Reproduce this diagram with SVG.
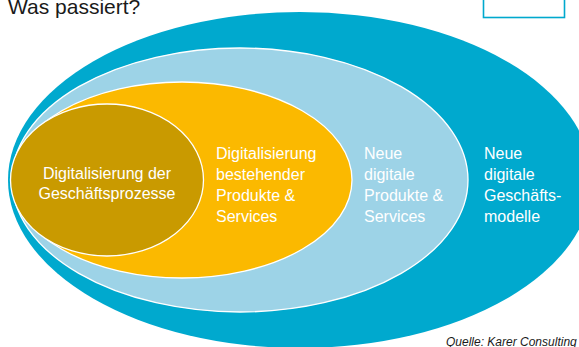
<svg xmlns="http://www.w3.org/2000/svg" width="579" height="347" viewBox="0 0 579 347">
  <style>
    .lbl { font-family: "Liberation Sans", Arial, sans-serif; font-size: 16px; fill: #ffffff; }
    .ring { stroke: #ffffff; stroke-width: 1.3; }
    .title { font-family: "Liberation Sans", Arial, sans-serif; font-size: 21px; fill: #1a1a1a; }
    .src { font-family: "Liberation Sans", Arial, sans-serif; font-size: 12px; font-style: italic; fill: #1a1a1a; }
  </style>

  <rect width="579" height="347" fill="#ffffff"/>

  <!-- heading and frame -->
  <text class="title" x="8" y="14">Was passiert?</text>
  <rect x="483.5" y="-5" width="81" height="22.5" fill="none" stroke="#00a9ce" stroke-width="1.6"/>

  <!-- outermost level -->
  <g id="geschaeftsmodelle">
    <ellipse cx="300" cy="180" rx="292" ry="168" fill="#00a9ce"/>
    <text class="lbl" x="484" y="159">Neue</text>
    <text class="lbl" x="484" y="180">digitale</text>
    <text class="lbl" x="484" y="201">Geschäfts-</text>
    <text class="lbl" x="484" y="222">modelle</text>
  </g>

  <g id="neue-produkte">
    <ellipse class="ring" cx="240" cy="180" rx="228" ry="132" fill="#9dd3e7"/>
    <text class="lbl" x="364" y="159">Neue</text>
    <text class="lbl" x="364" y="180">digitale</text>
    <text class="lbl" x="364" y="201">Produkte &amp;</text>
    <text class="lbl" x="364" y="222">Services</text>
  </g>

  <g id="bestehende-produkte">
    <ellipse class="ring" cx="182" cy="180" rx="170" ry="98" fill="#fbb900"/>
    <text class="lbl" x="216" y="159">Digitalisierung</text>
    <text class="lbl" x="216" y="180">bestehender</text>
    <text class="lbl" x="216" y="201">Produkte &amp;</text>
    <text class="lbl" x="216" y="222">Services</text>
  </g>

  <g id="geschaeftsprozesse">
    <ellipse class="ring" cx="107" cy="180" rx="96.5" ry="76" fill="#c99a00"/>
    <text class="lbl" x="107" y="179" text-anchor="middle">Digitalisierung der</text>
    <text class="lbl" x="107" y="199" text-anchor="middle">Geschäftsprozesse</text>
  </g>

  <text class="src" x="446" y="346">Quelle: Karer Consulting</text>
</svg>
